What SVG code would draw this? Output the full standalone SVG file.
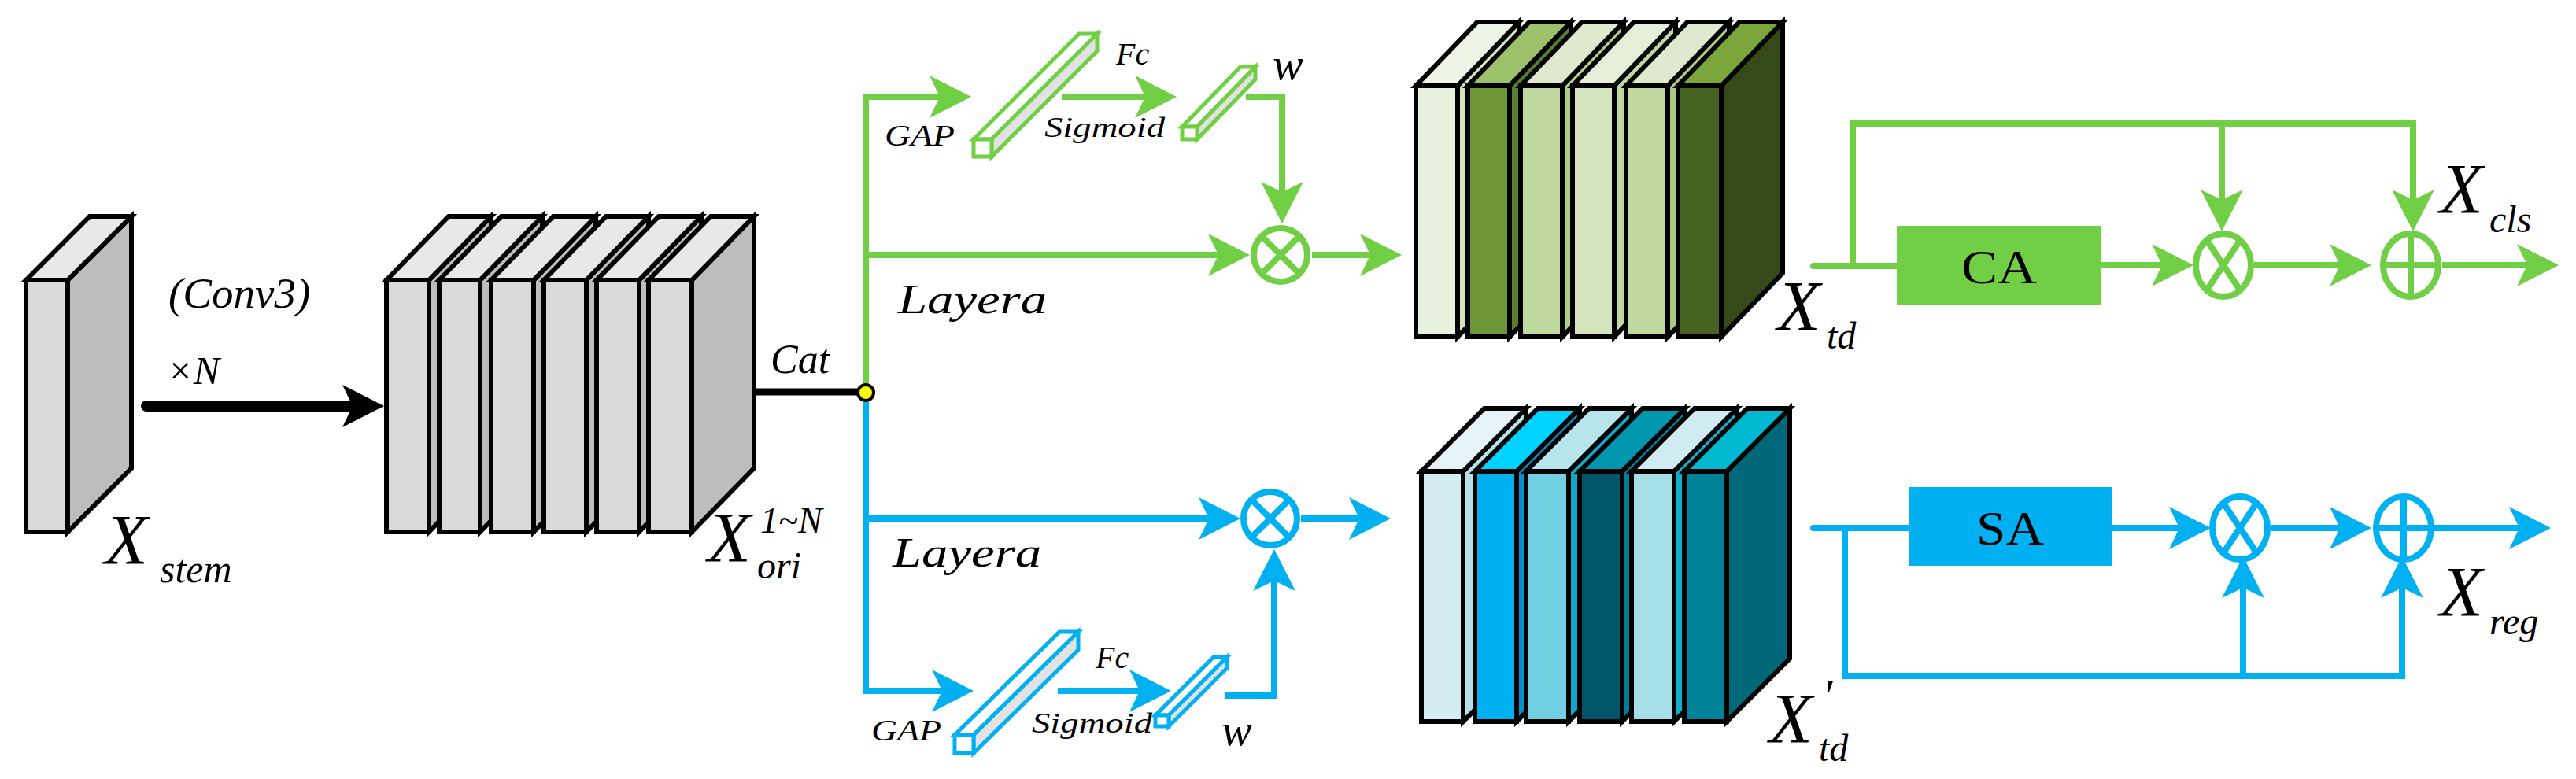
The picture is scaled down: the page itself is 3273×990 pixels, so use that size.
<svg xmlns="http://www.w3.org/2000/svg" width="3273" height="990" viewBox="0 0 3273 990">
<defs>
<style>
.k{stroke:#000;stroke-width:6;stroke-linejoin:miter}
.g{stroke:#70cf45;stroke-width:8;fill:none}
.b{stroke:#00b0f0;stroke-width:8;fill:none}
.t{font-family:"Liberation Serif",serif;font-style:italic;fill:#000}
.gb{stroke:#70cf45;stroke-width:5}
.bb{stroke:#00b0f0;stroke-width:5}
</style>
<marker id="ag" markerUnits="userSpaceOnUse" viewBox="-25 -28 56 56" markerWidth="56" markerHeight="56" refX="0" refY="0" orient="auto"><path d="M30,0 L-23,-27 L-10,0 L-23,27Z" fill="#70cf45"/></marker>
<marker id="ab" markerUnits="userSpaceOnUse" viewBox="-25 -28 56 56" markerWidth="56" markerHeight="56" refX="0" refY="0" orient="auto"><path d="M30,0 L-23,-27 L-10,0 L-23,27Z" fill="#00b0f0"/></marker>
<marker id="ak" markerUnits="userSpaceOnUse" viewBox="-25 -28 56 56" markerWidth="56" markerHeight="56" refX="0" refY="0" orient="auto"><path d="M30,0 L-23,-27 L-10,0 L-23,27Z" fill="#000"/></marker>
</defs>
<rect width="3273" height="990" fill="#fff"/>

<g id="stem">
<polygon class="k" points="86,356 167,275 167,595 86,676" fill="#bdbdbd"/>
<polygon class="k" points="33,356 114,275 167,275 86,356" fill="#e8e8e8"/>
<rect class="k" x="33" y="356" width="53" height="320" fill="#d9d9d9"/>
<text class="t" x="133" y="717" font-size="90">X</text><text class="t" x="203" y="740" font-size="50">stem</text>
</g>

<g id="ori">
<g fill="#d9d9d9">
<polygon class="k" points="545,356 624,275 624,595 545,676" fill="#bdbdbd"/><polygon class="k" points="491,356 570,275 624,275 545,356" fill="#e8e8e8"/><rect class="k" x="491" y="356" width="54" height="320"/>
<polygon class="k" points="610,356 689,275 689,595 610,676" fill="#bdbdbd"/><polygon class="k" points="558,356 637,275 689,275 610,356" fill="#e8e8e8"/><rect class="k" x="558" y="356" width="52" height="320"/>
<polygon class="k" points="678,356 757,275 757,595 678,676" fill="#bdbdbd"/><polygon class="k" points="624,356 703,275 757,275 678,356" fill="#e8e8e8"/><rect class="k" x="624" y="356" width="54" height="320"/>
<polygon class="k" points="745,356 824,275 824,595 745,676" fill="#bdbdbd"/><polygon class="k" points="691,356 770,275 824,275 745,356" fill="#e8e8e8"/><rect class="k" x="691" y="356" width="54" height="320"/>
<polygon class="k" points="812,356 891,275 891,595 812,676" fill="#bdbdbd"/><polygon class="k" points="758,356 837,275 891,275 812,356" fill="#e8e8e8"/><rect class="k" x="758" y="356" width="54" height="320"/>
<polygon class="k" points="879,356 958,275 958,595 879,676" fill="#bdbdbd"/><polygon class="k" points="824,356 903,275 958,275 879,356" fill="#e8e8e8"/><rect class="k" x="824" y="356" width="55" height="320"/>
</g>
<text class="t" x="899" y="714" font-size="90">X</text><text class="t" x="966" y="677" font-size="46" font-style="normal">1~<tspan font-style="italic">N</tspan></text><text class="t" x="962" y="735" font-size="48">ori</text>
</g>

<g id="connectors">
<line x1="186" y1="516" x2="458" y2="516" stroke="#000" stroke-width="14" stroke-linecap="round" marker-end="url(#ak)"/>
<line x1="958" y1="498" x2="1100" y2="498" stroke="#000" stroke-width="9"/>
<text class="t" x="214" y="391" font-size="55" font-style="normal">(<tspan font-style="italic">Conv</tspan>3)</text>
<text class="t" x="212" y="488" font-size="50" font-style="normal">×<tspan font-style="italic">N</tspan></text>
<text class="t" x="979" y="474" font-size="52">Cat</text>

<!-- green branch -->
<polyline class="g" points="1100,499 1100,123 1204,123" marker-end="url(#ag)"/>
<line class="g" x1="1100" y1="324" x2="1558" y2="324" marker-end="url(#ag)"/>
<line class="g" x1="1349" y1="123" x2="1465" y2="123" marker-end="url(#ag)"/>
<polyline class="g" points="1583,123 1629,123 1629,254" marker-end="url(#ag)"/>
<line class="g" x1="1667" y1="324" x2="1751" y2="324" marker-end="url(#ag)"/>
<!-- blue branch -->
<polyline class="b" points="1100,499 1100,878 1207,878" marker-end="url(#ab)"/>
<line class="b" x1="1100" y1="659" x2="1546" y2="659" marker-end="url(#ab)"/>
<line class="b" x1="1344" y1="878" x2="1458" y2="878" marker-end="url(#ab)"/>
<polyline class="b" points="1557,884 1619,884 1619,728" marker-end="url(#ab)"/>
<line class="b" x1="1653" y1="659" x2="1737" y2="659" marker-end="url(#ab)"/>
<circle cx="1100" cy="499" r="10" fill="#ffff00" stroke="#000" stroke-width="4"/>

<!-- green right -->
<line class="g" x1="2304" y1="338" x2="2410" y2="338" stroke-linecap="round"/>
<polyline class="g" points="2354,338 2354,157 3066,157 3066,264" marker-end="url(#ag)"/>
<line class="g" x1="2823" y1="157" x2="2823" y2="264" marker-end="url(#ag)"/>
<line class="g" x1="2670" y1="337" x2="2757" y2="337" marker-end="url(#ag)"/>
<line class="g" x1="2864" y1="337" x2="2983" y2="337" marker-end="url(#ag)"/>
<line class="g" x1="3103" y1="337" x2="3221" y2="337" marker-end="url(#ag)"/>
<!-- blue right -->
<line class="b" x1="2304" y1="671" x2="2425" y2="671" stroke-linecap="round"/>
<polyline class="b" points="2344,671 2344,859 3052,859 3052,737" marker-end="url(#ab)"/>
<line class="b" x1="2850" y1="859" x2="2850" y2="737" marker-end="url(#ab)"/>
<line class="b" x1="2684" y1="671" x2="2779" y2="671" marker-end="url(#ab)"/>
<line class="b" x1="2885" y1="671" x2="2983" y2="671" marker-end="url(#ab)"/>
<line class="b" x1="3093" y1="671" x2="3211" y2="671" marker-end="url(#ab)"/>
</g>

<g id="labels-branch">
<text class="t" x="1124" y="185" font-size="38" textLength="89" lengthAdjust="spacingAndGlyphs">GAP</text>
<text class="t" x="1418" y="82" font-size="40">Fc</text>
<text class="t" x="1327" y="174" font-size="36" textLength="153" lengthAdjust="spacingAndGlyphs">Sigmoid</text>
<text class="t" x="1617" y="101" font-size="58">w</text>
<text class="t" x="1141" y="398" font-size="52" textLength="189" lengthAdjust="spacingAndGlyphs">Layera</text>
<text class="t" x="1134" y="720" font-size="52" textLength="189" lengthAdjust="spacingAndGlyphs">Layera</text>
<text class="t" x="1107" y="941" font-size="38" textLength="89" lengthAdjust="spacingAndGlyphs">GAP</text>
<text class="t" x="1392" y="849" font-size="40">Fc</text>
<text class="t" x="1311" y="931" font-size="36" textLength="153" lengthAdjust="spacingAndGlyphs">Sigmoid</text>
<text class="t" x="1552" y="947" font-size="58">w</text>
</g>

<g id="gap-green">
<polygon class="gb" points="1237,177 1371,43 1394,43 1260,177" fill="#fff"/>
<polygon class="gb" points="1260,177 1394,43 1394,65 1260,199" fill="#e2e2e2"/>
<rect class="gb" x="1237" y="177" width="23" height="22" fill="#fff"/>
</g>
<g id="fc-green">
<polygon class="gb" points="1502,161 1576,85 1595,85 1521,161" fill="#fff"/>
<polygon class="gb" points="1521,161 1595,85 1595,101 1521,177" fill="#e2e2e2"/>
<rect class="gb" x="1502" y="161" width="19" height="16" fill="#fff"/>
</g>
<g id="gap-blue">
<polygon class="bb" points="1213,934 1346,803 1370,803 1237,934" fill="#fff"/>
<polygon class="bb" points="1237,934 1370,803 1370,826 1237,957" fill="#e2e2e2"/>
<rect class="bb" x="1213" y="934" width="24" height="23" fill="#fff"/>
</g>
<g id="fc-blue">
<polygon class="bb" points="1468,909 1542,835 1559,835 1485,909" fill="#fff"/>
<polygon class="bb" points="1485,909 1559,835 1559,849 1485,923" fill="#e2e2e2"/>
<rect class="bb" x="1468" y="909" width="17" height="14" fill="#fff"/>
</g>

<g id="mul-green" stroke="#70cf45" stroke-width="8" fill="none"><circle cx="1627" cy="324" r="34"/><path d="M1603,300 L1651,348 M1651,300 L1603,348"/></g>
<g id="mul-blue" stroke="#00b0f0" stroke-width="8" fill="none"><circle cx="1614" cy="659" r="34"/><path d="M1590,635 L1638,683 M1638,635 L1590,683"/></g>

<g id="td">
<polygon class="k" points="1852,109 1930,28 1930,347 1852,428" fill="#d4e4bf"/><polygon class="k" points="1799,109 1877,28 1930,28 1852,109" fill="#eef4e6"/><rect class="k" x="1799" y="109" width="53" height="319" fill="#e8f0de"/>
<polygon class="k" points="1918,109 1996,28 1996,347 1918,428" fill="#5a7f2c"/><polygon class="k" points="1865,109 1943,28 1996,28 1918,109" fill="#9dc06a"/><rect class="k" x="1865" y="109" width="53" height="319" fill="#6e9638"/>
<polygon class="k" points="1985,109 2063,28 2063,347 1985,428" fill="#b0cf8a"/><polygon class="k" points="1932,109 2010,28 2063,28 1985,109" fill="#dfe9cf"/><rect class="k" x="1932" y="109" width="53" height="319" fill="#c0d9a0"/>
<polygon class="k" points="2051,109 2129,28 2129,347 2051,428" fill="#c0d9a0"/><polygon class="k" points="1998,109 2076,28 2129,28 2051,109" fill="#e4eed8"/><rect class="k" x="1998" y="109" width="53" height="319" fill="#d4e4bf"/>
<polygon class="k" points="2119,109 2197,28 2197,347 2119,428" fill="#a9c985"/><polygon class="k" points="2066,109 2144,28 2197,28 2119,109" fill="#dfe9cf"/><rect class="k" x="2066" y="109" width="53" height="319" fill="#c0d9a0"/>
<polygon class="k" points="2187,109 2265,28 2265,347 2187,428" fill="#354a18"/><polygon class="k" points="2132,109 2210,28 2265,28 2187,109" fill="#7ba63c"/><rect class="k" x="2132" y="109" width="55" height="319" fill="#456221"/>
<text class="t" x="2258" y="420" font-size="90">X</text><text class="t" x="2321" y="443" font-size="48">td</text>
</g>

<g id="td2">
<polygon class="k" points="1859,599 1939,519 1939,837 1859,917" fill="#b8e0ea"/><polygon class="k" points="1806,599 1886,519 1939,519 1859,599" fill="#e6f4f8"/><rect class="k" x="1806" y="599" width="53" height="318" fill="#d3ecf2"/>
<polygon class="k" points="1927,599 2007,519 2007,837 1927,917" fill="#0092c8"/><polygon class="k" points="1874,599 1954,519 2007,519 1927,599" fill="#00d2ff"/><rect class="k" x="1874" y="599" width="53" height="318" fill="#00b0f0"/>
<polygon class="k" points="1993,599 2073,519 2073,837 1993,917" fill="#10a8c8"/><polygon class="k" points="1939,599 2019,519 2073,519 1993,599" fill="#b8e4ec"/><rect class="k" x="1939" y="599" width="54" height="318" fill="#70cfe0"/>
<polygon class="k" points="2061,599 2141,519 2141,837 2061,917" fill="#007e96"/><polygon class="k" points="2007,599 2087,519 2141,519 2061,599" fill="#0096ad"/><rect class="k" x="2007" y="599" width="54" height="318" fill="#005568"/>
<polygon class="k" points="2127,599 2207,519 2207,837 2127,917" fill="#10b0cc"/><polygon class="k" points="2073,599 2153,519 2207,519 2127,599" fill="#d0ecf2"/><rect class="k" x="2073" y="599" width="54" height="318" fill="#a5dfe8"/>
<polygon class="k" points="2194,599 2274,519 2274,837 2194,917" fill="#006878"/><polygon class="k" points="2140,599 2220,519 2274,519 2194,599" fill="#00b8d0"/><rect class="k" x="2140" y="599" width="54" height="318" fill="#008299"/>
<text class="t" x="2248" y="944" font-size="90">X</text><text class="t" x="2315" y="905" font-size="60" font-style="normal">′</text><text class="t" x="2311" y="967" font-size="48">td</text>
</g>

<g id="CA"><rect x="2410" y="287" width="260" height="100" fill="#70cf45"/><text x="2540" y="360" font-family="Liberation Serif,serif" font-size="62" text-anchor="middle" textLength="96" lengthAdjust="spacingAndGlyphs">CA</text></g>
<g id="SA"><rect x="2425" y="619" width="259" height="100" fill="#00b0f0"/><text x="2554" y="692" font-family="Liberation Serif,serif" font-size="62" text-anchor="middle" textLength="86" lengthAdjust="spacingAndGlyphs">SA</text></g>

<g id="ops" fill="none" stroke-width="8">
<g stroke="#70cf45"><ellipse cx="2825" cy="337" rx="35" ry="40"/><path d="M2805,307 L2845,367 M2845,307 L2805,367"/></g>
<g stroke="#70cf45"><ellipse cx="3063" cy="337" rx="35" ry="40"/><path d="M3063,297 V377 M3028,337 H3098"/></g>
<g stroke="#00b0f0"><ellipse cx="2846" cy="671" rx="35" ry="40"/><path d="M2826,641 L2866,701 M2866,641 L2826,701"/></g>
<g stroke="#00b0f0"><ellipse cx="3054" cy="671" rx="35" ry="40"/><path d="M3054,631 V711 M3019,671 H3089"/></g>
</g>
<g id="out-labels">
<text class="t" x="3100" y="271" font-size="90">X</text><text class="t" x="3163" y="295" font-size="48">cls</text>
<text class="t" x="3100" y="783" font-size="90">X</text><text class="t" x="3163" y="806" font-size="48">reg</text>
</g>
</svg>
